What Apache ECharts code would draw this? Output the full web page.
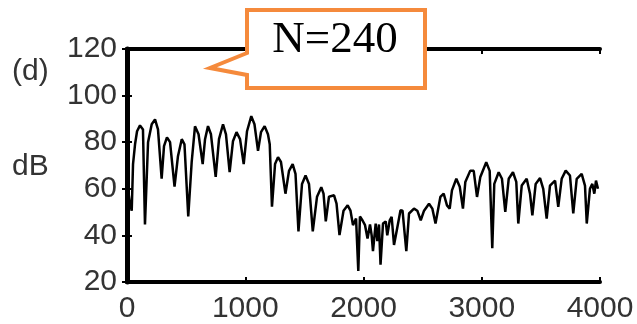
<!DOCTYPE html>
<html>
<head>
<meta charset="utf-8">
<script src="https://cdn.jsdelivr.net/npm/echarts@6/dist/echarts.min.js"></script>
<style>
  html, body { margin: 0; padding: 0; background: #fff; }
  #chart { width: 637px; height: 324px; }
</style>
</head>
<body>
<div id="chart"></div>
<script>
// spectrum: frequency (Hz) and level (dB)
const freqHz = [
  8, 25, 40, 51, 68, 85, 110, 135, 152, 178, 209, 237, 262, 293, 313, 338, 364, 402, 431, 463,
  486, 518, 547, 575, 605, 640, 660, 685, 710, 750, 778, 812, 837, 868, 896, 926, 956, 987, 1015, 1051,
  1078, 1108, 1133, 1164, 1192, 1207, 1226, 1252, 1277, 1302, 1340, 1370, 1401, 1425, 1450, 1480, 1510, 1539, 1571, 1607,
  1643, 1662, 1681, 1708, 1751, 1772, 1797, 1831, 1866, 1890, 1911, 1937, 1956, 1970, 1992, 2013, 2034, 2055, 2069, 2080,
  2103, 2117, 2131, 2144, 2165, 2188, 2201, 2222, 2238, 2258, 2286, 2313, 2330, 2362, 2385, 2427, 2455, 2484, 2512, 2554,
  2582, 2609, 2650, 2678, 2706, 2729, 2748, 2785, 2814, 2841, 2861, 2903, 2932, 2960, 2988, 3038, 3067, 3089, 3106, 3143,
  3171, 3199, 3228, 3264, 3292, 3309, 3338, 3380, 3408, 3428, 3456, 3493, 3520, 3549, 3577, 3620, 3647, 3676, 3710, 3746,
  3774, 3803, 3845, 3873, 3888, 3915, 3935, 3952, 3966, 3983
];
const levelDb = [
  60.0, 53.6, 50.6, 70.6, 79.1, 84.7, 87.2, 85.5, 44.7, 80.0, 87.7, 89.8, 85.5, 64.3, 78.3, 82.1, 80.0, 60.9, 74.0, 81.3,
  79.1, 48.1, 71.5, 86.8, 83.4, 70.6, 81.3, 86.9, 83.4, 65.1, 81.3, 87.7, 83.4, 67.2, 80.4, 84.3, 81.3, 70.6, 84.7, 91.2,
  87.7, 76.3, 84.3, 86.9, 83.4, 79.1, 52.3, 70.6, 73.6, 71.5, 57.9, 67.7, 70.6, 66.4, 41.7, 62.1, 65.7, 62.1, 41.7, 56.6,
  60.7, 57.9, 46.0, 56.6, 57.2, 53.6, 40.1, 50.6, 52.9, 50.6, 44.4, 47.2, 24.7, 48.1, 46.4, 44.4, 38.7, 44.7, 40.0, 33.2,
  45.1, 37.5, 44.7, 27.4, 45.1, 46.0, 40.0, 46.5, 48.0, 35.9, 43.4, 50.8, 50.6, 33.2, 49.4, 51.5, 50.6, 46.5, 50.6, 53.6,
  51.5, 45.1, 56.5, 57.9, 52.9, 51.5, 59.3, 64.3, 60.9, 51.5, 62.9, 67.8, 67.7, 56.5, 65.1, 71.4, 67.7, 34.5, 62.1, 67.1,
  64.3, 50.1, 64.3, 67.1, 63.0, 45.1, 61.4, 64.3, 57.9, 48.6, 62.1, 64.6, 60.0, 47.2, 61.4, 63.5, 52.2, 64.3, 67.8, 65.7,
  49.4, 64.3, 66.4, 61.4, 45.1, 60.0, 62.1, 57.9, 63.5, 60.0
];
const panelLabel = '(d)';
const unitLabel = 'dB';
const calloutText = 'N=240';

const labelFont = 'Liberation Sans, Arial, sans-serif';
const tickStyle = { show: true, inside: true, length: 5, lineStyle: { color: '#000', width: 2 } };

const chart = echarts.init(document.getElementById('chart'));
chart.setOption({
  animation: false,
  grid: { left: 127, right: 37, top: 49, bottom: 40 },
  xAxis: [{
    type: 'value', min: 0, max: 4000, interval: 1000,
    axisLine: { lineStyle: { color: '#000', width: 4 } },
    axisTick: tickStyle,
    axisLabel: { color: '#333', fontSize: 30, fontFamily: labelFont, margin: 12,
      formatter: v => String(v) },
    splitLine: { show: false }
  }, {
    type: 'value', position: 'top', min: 0, max: 4000, interval: 1000,
    axisLine: { lineStyle: { color: '#000', width: 4 } },
    axisTick: tickStyle,
    axisLabel: { show: false },
    splitLine: { show: false }
  }],
  yAxis: [{
    type: 'value', min: 20, max: 120, interval: 20,
    axisLine: { show: true, lineStyle: { color: '#000', width: 4 } },
    axisTick: tickStyle,
    axisLabel: { color: '#333', fontSize: 30, fontFamily: labelFont, margin: 10 },
    splitLine: { show: false }
  }, {
    type: 'value', position: 'right', min: 20, max: 120, interval: 20,
    axisLine: { show: true, lineStyle: { color: '#000', width: 5 } },
    axisTick: tickStyle,
    axisLabel: { show: false },
    splitLine: { show: false }
  }],
  series: [{
    type: 'line',
    data: freqHz.map((f, i) => [f, levelDb[i]]),
    showSymbol: false,
    lineStyle: { color: '#000', width: 2.5 },
    z: 3
  }],
  graphic: [
    { type: 'text', left: 12, top: 57, z: 10,
      style: { text: panelLabel, fill: '#333', fontSize: 30, fontFamily: labelFont } },
    { type: 'text', left: 12, top: 152, z: 10,
      style: { text: unitLabel, fill: '#333', fontSize: 30, fontFamily: labelFont } },
    { type: 'polygon', z: 20,
      shape: { points: [[247, 10], [425, 10], [425, 88], [247, 88], [247, 75], [210, 68], [247, 53]] },
      style: { fill: '#fff', stroke: '#f58a3c', lineWidth: 4, lineJoin: 'miter' } },
    { type: 'text', z: 21, x: 335, y: 40,
      style: { text: calloutText, fill: '#000', fontSize: 45, fontFamily: 'Liberation Serif, Times New Roman, serif',
        align: 'center', verticalAlign: 'middle' } }
  ]
});
</script>
</body>
</html>
